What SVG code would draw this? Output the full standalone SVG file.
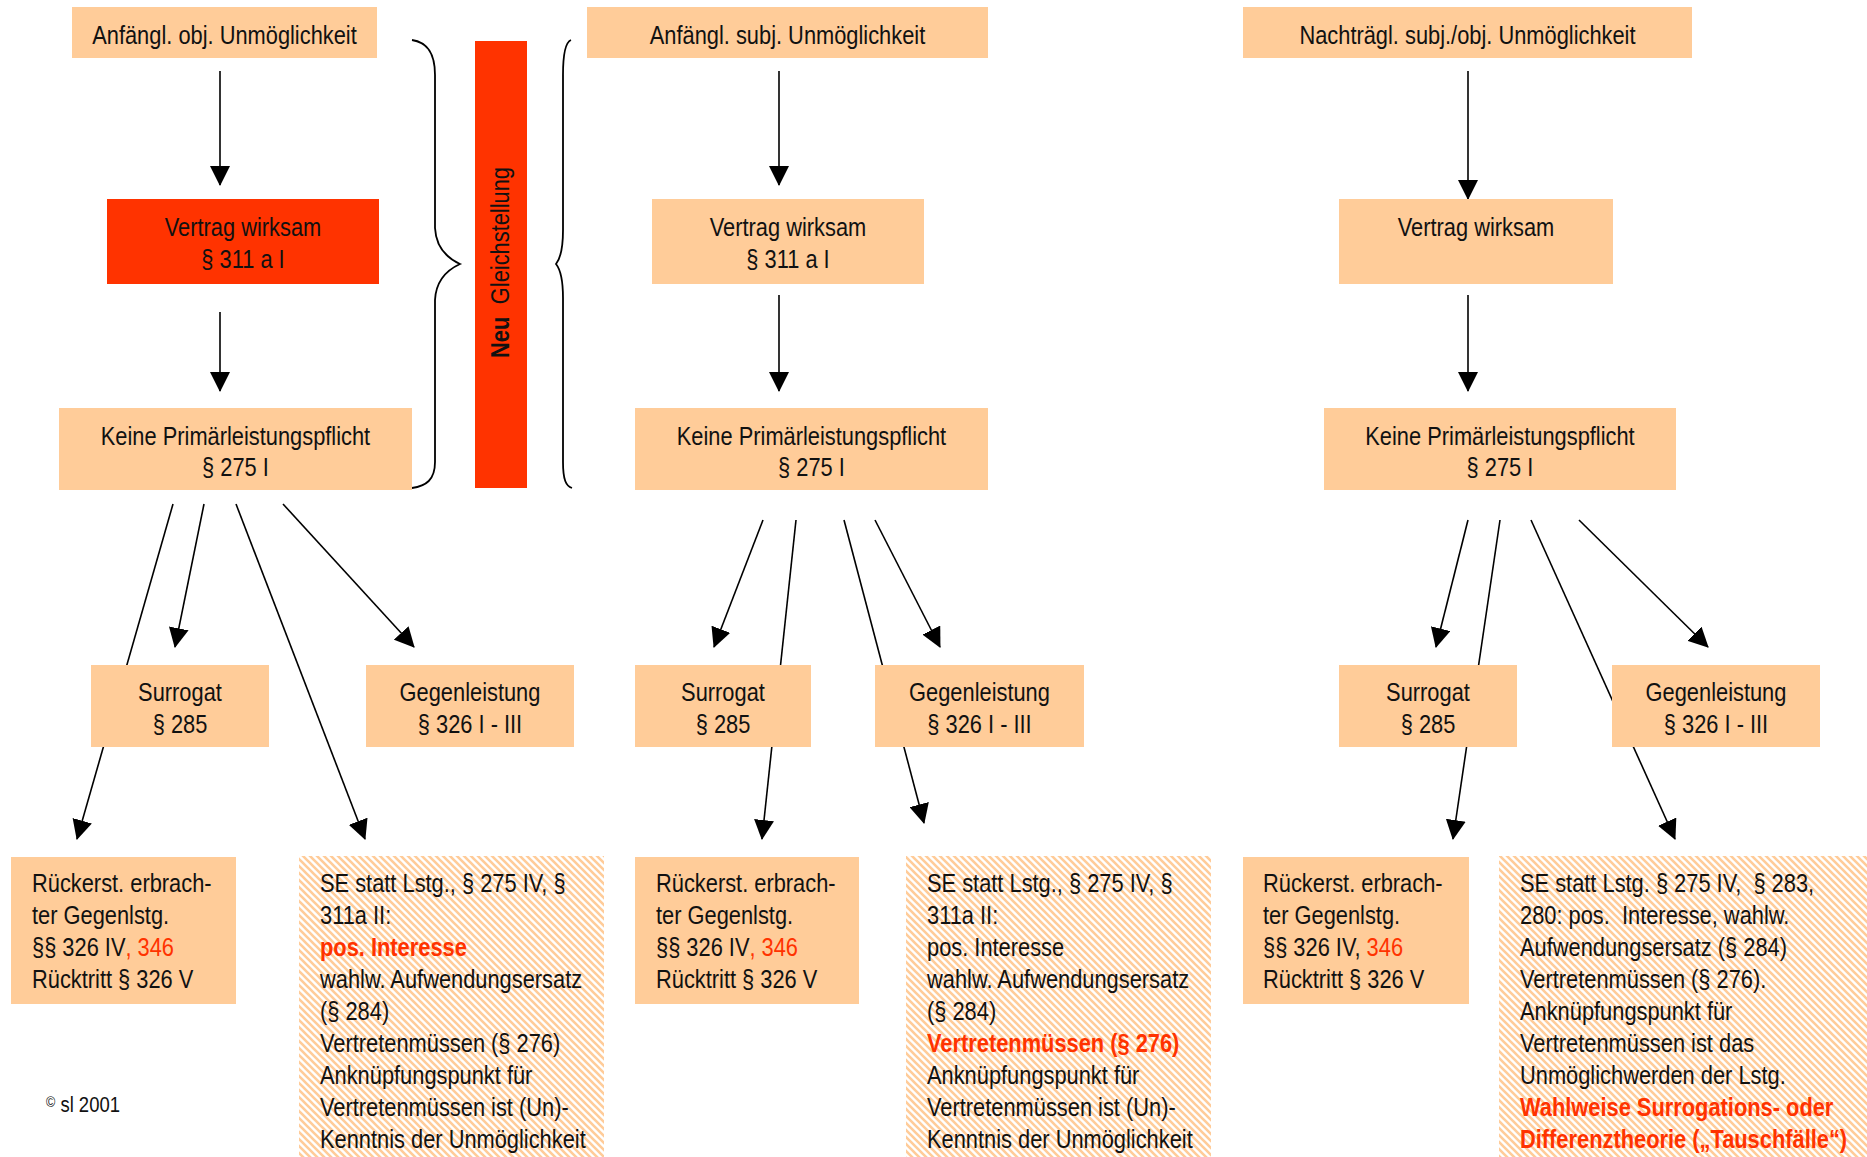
<svg xmlns="http://www.w3.org/2000/svg" width="1867" height="1157" viewBox="0 0 1867 1157">
<style>
.box{fill:#FFCC99}
.red{fill:#FF3300}
.hat{fill:url(#hatch)}
text{font-family:"Liberation Sans Narrow","Arial Narrow","Liberation Sans",Arial,sans-serif;font-size:26px;fill:#111}
.c{text-anchor:middle}
.r{fill:#FF3300}
.b{font-weight:bold}
.cn line{stroke:#000;stroke-width:1.6;marker-end:url(#ah)}
.br{fill:none;stroke:#000;stroke-width:1.8}
</style>
<defs>
<marker id="ah" viewBox="0 0 20 20" markerWidth="20" markerHeight="20" refX="19" refY="10" orient="auto" markerUnits="userSpaceOnUse">
<path d="M0,0 L20,10 L0,20 z" fill="#000"/>
</marker>
<pattern id="hatch" patternUnits="userSpaceOnUse" width="7" height="7">
<rect width="7" height="7" fill="#fff"/>
<path d="M-1,6 L1,8 M0,0 L7,7 M6,-1 L8,1" stroke="#FFCC99" stroke-width="2.6"/>
</pattern>
</defs>
<rect width="1867" height="1157" fill="#fff"/>

<g id="connectors" class="cn">
<line x1="220" y1="71" x2="220" y2="185"/>
<line x1="220" y1="312" x2="220" y2="391"/>
<line x1="779" y1="71" x2="779" y2="185"/>
<line x1="779" y1="295" x2="779" y2="391"/>
<line x1="1468" y1="71" x2="1468" y2="199"/>
<line x1="1468" y1="295" x2="1468" y2="391"/>
<line x1="173" y1="504" x2="77" y2="839"/>
<line x1="204" y1="504" x2="175" y2="647"/>
<line x1="236" y1="504" x2="365" y2="839"/>
<line x1="283" y1="504" x2="414" y2="647"/>
<line x1="763" y1="520" x2="714" y2="647"/>
<line x1="796" y1="520" x2="762" y2="839"/>
<line x1="844" y1="520" x2="924" y2="823"/>
<line x1="875" y1="520" x2="940" y2="647"/>
<line x1="1468" y1="520" x2="1436" y2="647"/>
<line x1="1500" y1="520" x2="1453" y2="839"/>
<line x1="1531" y1="520" x2="1675" y2="839"/>
<line x1="1579" y1="520" x2="1708" y2="647"/>
</g>

<g id="brace-left">
<path class="br" d="M412,40 C425,42 435,50 435,75 L435,228 C436,248 447,258 460,264 C447,270 436,280 435,300 L435,462 C435,480 426,486 412,488"/>
</g>
<g id="brace-right">
<path class="br" d="M571,40 C566,42 563,52 563,75 L563,230 C563,250 560,259 556,264 C560,269 563,278 563,298 L563,462 C563,480 566,486 572,488"/>
</g>
<g id="neu-gleichstellung">
<rect x="475" y="41" width="52" height="447" class="red"/>
<text transform="translate(509,358) rotate(-90) scale(0.84,1)"><tspan class="b">Neu</tspan><tspan dx="15">Gleichstellung</tspan></text>
</g>

<!-- column 1 -->
<g id="c1-start"><rect class="box" x="72" y="7" width="305" height="51"/><g transform="matrix(.84 0 0 1 35.92 0)"><text class="c" x="224.5" y="44">Anfängl. obj. Unmöglichkeit</text></g></g>
<g id="c1-vertrag"><rect class="red" x="107" y="199" width="272" height="85"/><g transform="matrix(.84 0 0 1 38.88 0)"><text class="c" x="243" y="236">Vertrag wirksam</text><text class="c" x="243" y="268">§ 311 a I</text></g></g>
<g id="c1-keine"><rect class="box" x="59" y="408" width="353" height="82"/><g transform="matrix(.84 0 0 1 37.68 0)"><text class="c" x="235.5" y="445">Keine Primärleistungspflicht</text><text class="c" x="235.5" y="476">§ 275 I</text></g></g>
<g id="c1-surrogat"><rect class="box" x="91" y="665" width="178" height="82"/><g transform="matrix(.84 0 0 1 28.8 0)"><text class="c" x="180" y="701">Surrogat</text><text class="c" x="180" y="733">§ 285</text></g></g>
<g id="c1-gegen"><rect class="box" x="366" y="665" width="208" height="82"/><g transform="matrix(.84 0 0 1 75.2 0)"><text class="c" x="470" y="701">Gegenleistung</text><text class="c" x="470" y="733">§ 326 I - III</text></g></g>
<g id="c1-rueck"><rect class="box" x="11" y="857" width="225" height="147"/><g transform="matrix(.84 0 0 1 5.12 0)">
<text x="32" y="892">Rückerst. erbrach-</text><text x="32" y="924">ter Gegenlstg.</text><text x="32" y="956">§§ 326 IV<tspan class="r">, 346</tspan></text><text x="32" y="988">Rücktritt § 326 V</text></g></g>
<g id="c1-se"><rect class="hat" x="299" y="856" width="305" height="301"/><g transform="matrix(.84 0 0 1 51.2 0)">
<text x="320" y="892">SE statt Lstg., § 275 IV, §</text>
<text x="320" y="924">311a II:</text>
<text x="320" y="956" class="r b">pos. Interesse</text>
<text x="320" y="988">wahlw. Aufwendungsersatz</text>
<text x="320" y="1020">(§ 284)</text>
<text x="320" y="1052">Vertretenmüssen (§ 276)</text>
<text x="320" y="1084">Anknüpfungspunkt für</text>
<text x="320" y="1116">Vertretenmüssen ist (Un)-</text>
<text x="320" y="1148">Kenntnis der Unmöglichkeit</text></g></g>
<g id="copyright" transform="matrix(.84 0 0 1 7.36 0)"><text x="46" y="1112" style="font-size:22px"><tspan style="font-size:15px" dy="-5">©</tspan><tspan dy="5"> sl 2001</tspan></text></g>

<!-- column 2 -->
<g id="c2-start"><rect class="box" x="587" y="7" width="401" height="51"/><g transform="matrix(.84 0 0 1 126 0)"><text class="c" x="787.5" y="44">Anfängl. subj. Unmöglichkeit</text></g></g>
<g id="c2-vertrag"><rect class="box" x="652" y="199" width="272" height="85"/><g transform="matrix(.84 0 0 1 126.08 0)"><text class="c" x="788" y="236">Vertrag wirksam</text><text class="c" x="788" y="268">§ 311 a I</text></g></g>
<g id="c2-keine"><rect class="box" x="635" y="408" width="353" height="82"/><g transform="matrix(.84 0 0 1 129.84 0)"><text class="c" x="811.5" y="445">Keine Primärleistungspflicht</text><text class="c" x="811.5" y="476">§ 275 I</text></g></g>
<g id="c2-surrogat"><rect class="box" x="635" y="665" width="176" height="82"/><g transform="matrix(.84 0 0 1 115.68 0)"><text class="c" x="723" y="701">Surrogat</text><text class="c" x="723" y="733">§ 285</text></g></g>
<g id="c2-gegen"><rect class="box" x="875" y="665" width="209" height="82"/><g transform="matrix(.84 0 0 1 156.72 0)"><text class="c" x="979.5" y="701">Gegenleistung</text><text class="c" x="979.5" y="733">§ 326 I - III</text></g></g>
<g id="c2-rueck"><rect class="box" x="635" y="857" width="224" height="147"/><g transform="matrix(.84 0 0 1 104.96 0)">
<text x="656" y="892">Rückerst. erbrach-</text><text x="656" y="924">ter Gegenlstg.</text><text x="656" y="956">§§ 326 IV<tspan class="r">, 346</tspan></text><text x="656" y="988">Rücktritt § 326 V</text></g></g>
<g id="c2-se"><rect class="hat" x="906" y="856" width="305" height="301"/><g transform="matrix(.84 0 0 1 148.32 0)">
<text x="927" y="892">SE statt Lstg., § 275 IV, §</text>
<text x="927" y="924">311a II:</text>
<text x="927" y="956">pos. Interesse</text>
<text x="927" y="988">wahlw. Aufwendungsersatz</text>
<text x="927" y="1020">(§ 284)</text>
<text x="927" y="1052" class="r b">Vertretenmüssen (§ 276)</text>
<text x="927" y="1084">Anknüpfungspunkt für</text>
<text x="927" y="1116">Vertretenmüssen ist (Un)-</text>
<text x="927" y="1148">Kenntnis der Unmöglichkeit</text></g></g>

<!-- column 3 -->
<g id="c3-start"><rect class="box" x="1243" y="7" width="449" height="51"/><g transform="matrix(.84 0 0 1 234.8 0)"><text class="c" x="1467.5" y="44">Nachträgl. subj./obj. Unmöglichkeit</text></g></g>
<g id="c3-vertrag"><rect class="box" x="1339" y="199" width="274" height="85"/><g transform="matrix(.84 0 0 1 236.16 0)"><text class="c" x="1476" y="236">Vertrag wirksam</text></g></g>
<g id="c3-keine"><rect class="box" x="1324" y="408" width="352" height="82"/><g transform="matrix(.84 0 0 1 240 0)"><text class="c" x="1500" y="445">Keine Primärleistungspflicht</text><text class="c" x="1500" y="476">§ 275 I</text></g></g>
<g id="c3-surrogat"><rect class="box" x="1339" y="665" width="178" height="82"/><g transform="matrix(.84 0 0 1 228.48 0)"><text class="c" x="1428" y="701">Surrogat</text><text class="c" x="1428" y="733">§ 285</text></g></g>
<g id="c3-gegen"><rect class="box" x="1612" y="665" width="208" height="82"/><g transform="matrix(.84 0 0 1 274.56 0)"><text class="c" x="1716" y="701">Gegenleistung</text><text class="c" x="1716" y="733">§ 326 I - III</text></g></g>
<g id="c3-rueck"><rect class="box" x="1243" y="857" width="226" height="147"/><g transform="matrix(.84 0 0 1 202.08 0)">
<text x="1263" y="892">Rückerst. erbrach-</text><text x="1263" y="924">ter Gegenlstg.</text><text x="1263" y="956">§§ 326 IV, <tspan class="r">346</tspan></text><text x="1263" y="988">Rücktritt § 326 V</text></g></g>
<g id="c3-se"><rect class="hat" x="1499" y="856" width="368" height="301"/><g transform="matrix(.84 0 0 1 243.2 0)">
<text x="1520" y="892" xml:space="preserve">SE statt Lstg. § 275 IV,  § 283,</text>
<text x="1520" y="924" xml:space="preserve">280: pos.  Interesse, wahlw.</text>
<text x="1520" y="956">Aufwendungsersatz (§ 284)</text>
<text x="1520" y="988">Vertretenmüssen (§ 276).</text>
<text x="1520" y="1020">Anknüpfungspunkt für</text>
<text x="1520" y="1052">Vertretenmüssen ist das</text>
<text x="1520" y="1084">Unmöglichwerden der Lstg.</text>
<text x="1520" y="1116" class="r b">Wahlweise Surrogations- oder</text>
<text x="1520" y="1148" class="r b">Differenztheorie („Tauschfälle“)</text></g></g>
</svg>
